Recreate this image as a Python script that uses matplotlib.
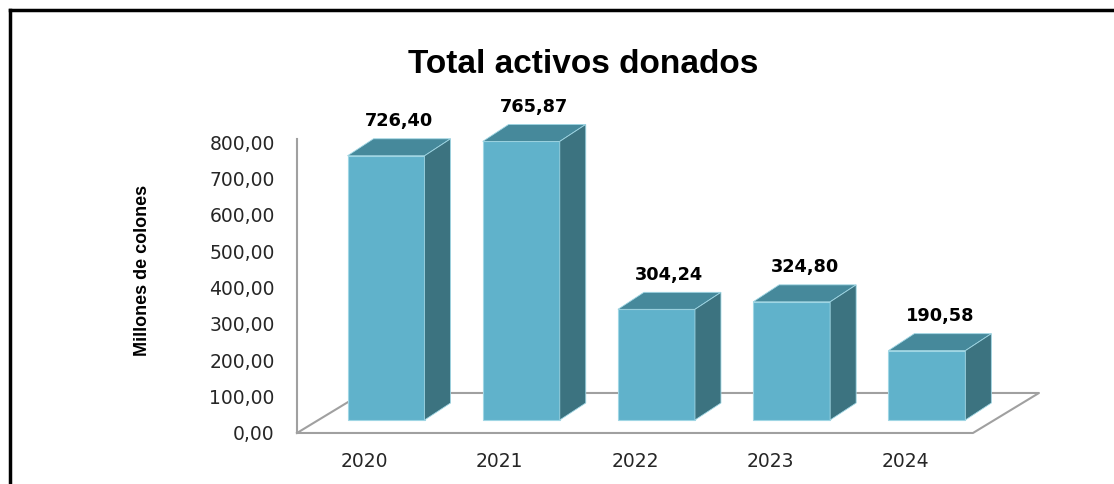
import numpy as np
import matplotlib
matplotlib.use("Agg")
import matplotlib.pyplot as plt
from matplotlib.patches import Polygon
from matplotlib.lines import Line2D

# ------------------------------------------------------------------ data
years = ["2020", "2021", "2022", "2023", "2024"]
values = [726.40, 765.87, 304.24, 324.80, 190.58]
y_ticks = [0, 100, 200, 300, 400, 500, 600, 700, 800]

# ------------------------------------------------------------------ style
FRONT = "#60b2cb"
TOP = "#46899b"
SIDE = "#3c7380"
EDGE = "#9fd6e4"
FLOOR = "#a0a0a0"
FLOOR_D = np.array([66.0, 40.0])   # floor depth, pixels (right, up)
BAR_D = np.array([26.0, 17.0])     # bar depth, pixels
BAR_POS = 0.325                    # bar front sits this far back on the floor
BAR_W = 0.57

def fmt(v):
    return f"{v:,.2f}".replace(",", "X").replace(".", ",").replace("X", ".")

fig = plt.figure(figsize=(11.14, 4.84), dpi=100)
ax = fig.add_axes([0.2666, 0.1054, 0.6068, 0.6012])
ax.set_xlim(-0.5, len(years) - 0.5)
ax.set_ylim(0, 800)
for s in ax.spines.values():
    s.set_visible(False)
ax.patch.set_visible(False)
ax.set_yticks(y_ticks)
ax.set_yticklabels([fmt(t) for t in y_ticks], fontsize=13.5, color="#262626")
ax.set_xticks(range(len(years)))
ax.set_xticklabels(years, fontsize=13.5, color="#262626")
ax.tick_params(axis="y", length=0, pad=16)
ax.tick_params(axis="x", length=0, pad=14)

fig.canvas.draw()
T = ax.transData

def P(x, y, d=(0.0, 0.0)):
    px = T.transform((x, y))
    return px + np.asarray(d)

def poly(pts, fc, ec="none", lw=0.0, z=1):
    fig.patches.append(Polygon(np.array(pts), closed=True, transform=None,
                               facecolor=fc, edgecolor=ec, linewidth=lw,
                               zorder=z, figure=fig))

def line(pts, z=1):
    pts = np.array(pts)
    fig.lines.append(Line2D(pts[:, 0], pts[:, 1], transform=None, color=FLOOR,
                            lw=1.5, zorder=z, figure=fig))

# floor + wall edge
x0, x1 = ax.get_xlim()
a, b = P(x0, 0), P(x1, 0)
line([a, a + FLOOR_D, b + FLOOR_D, b, a], z=1)
line([P(x0, 0), P(x0, 800, (0, 3))], z=1)

# bars
off = BAR_POS * FLOOR_D
for i, v in enumerate(values):
    l, r = i - BAR_W / 2, i + BAR_W / 2
    bl, br = P(l, 0, off), P(r, 0, off)
    tl, tr = P(l, v, off), P(r, v, off)
    poly([bl, br, tr, tl], FRONT, EDGE, 0.8, z=3)
    poly([tl, tr, tr + BAR_D, tl + BAR_D], TOP, EDGE, 0.6, z=3)
    poly([br, br + BAR_D, tr + BAR_D, tr], SIDE, EDGE, 0.6, z=3)
    cx, cy = (tl + tr) / 2 + BAR_D / 2
    fig.text(cx / fig.bbox.width, (cy + 17) / fig.bbox.height, fmt(v),
             ha="center", va="bottom", fontsize=12.8, fontweight="bold")

fig.text(0.5238, 0.866, "Total activos donados", ha="center", va="center",
         fontsize=24, fontweight="bold", family="Liberation Sans")
fig.text(0.1275, 0.442, "Millones de colones", ha="center", va="center",
         rotation=90, fontsize=13, fontweight="bold", family="Liberation Sans")

# outer frame (top and left edges only, as cropped)
fig.lines.append(Line2D([0.009, 1.0], [0.980, 0.980], transform=fig.transFigure,
                        color="black", lw=2.5, figure=fig))
fig.lines.append(Line2D([0.009, 0.009], [0.0, 0.980], transform=fig.transFigure,
                        color="black", lw=2.5, figure=fig))

fig.savefig("out.png", dpi=100)
